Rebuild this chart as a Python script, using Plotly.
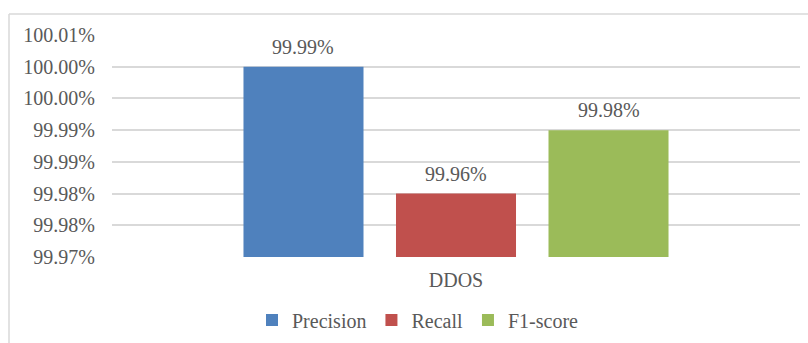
import plotly.graph_objects as go

categories = ["DDOS"]
series_names = ["Precision", "Recall", "F1-score"]
bar_values = [100.000, 99.980, 99.990]
label_texts = ["99.99%", "99.96%", "99.98%"]
colors = ["#4F81BD", "#C0504D", "#9BBB59"]
tick_vals = [99.970, 99.975, 99.980, 99.985, 99.990, 99.995, 100.000, 100.005]
tick_text = ["99.97%", "99.98%", "99.98%", "99.99%", "99.99%", "100.00%", "100.00%", "100.01%"]

FONT = "Liberation Serif"
TXT = "#595959"
W, H = 808, 343
ML, MR, MT, MB = 112, 8, 35, 86
bargap = 0.335
bargroupgap = 0.213

fig = go.Figure()
for name, v, c in zip(series_names, bar_values, colors):
    fig.add_trace(go.Bar(x=categories, y=[v - tick_vals[0]], base=[tick_vals[0]], name=name,
                         marker=dict(color=c, line=dict(width=0)), hoverinfo="skip"))

n = len(series_names)
slot = (1 - bargap) / n
annotations = []
for i, (v, t) in enumerate(zip(bar_values, label_texts)):
    annotations.append(dict(x=0 + (i - (n - 1) / 2) * slot, y=v, xref="x", yref="y", text=t,
                            showarrow=False, yanchor="middle", yshift=20,
                            font=dict(family=FONT, size=20, color=TXT)))

pw = W - ML - MR
ph = H - MT - MB
shapes = [
    dict(type="line", xref="paper", yref="paper", x0=(9 - ML) / pw, x1=(9 - ML) / pw,
         y0=-2, y1=(H - MB - 14) / ph, line=dict(color="#D9D9D9", width=1.5)),
    dict(type="line", xref="paper", yref="paper", x0=(9 - ML) / pw, x1=1.5,
         y0=(H - MB - 14) / ph, y1=(H - MB - 14) / ph, line=dict(color="#D9D9D9", width=1.5)),
]

fig.update_layout(
    width=W, height=H,
    margin=dict(l=ML, r=MR, t=MT, b=MB, autoexpand=False),
    paper_bgcolor="white", plot_bgcolor="white",
    barmode="group", bargap=bargap, bargroupgap=bargroupgap,
    font=dict(family=FONT, size=20, color=TXT),
    showlegend=True,
    legend=dict(orientation="h", x=(418 - ML) / pw, xanchor="center", y=(H - MB - 320) / ph,
                yanchor="middle", font=dict(family=FONT, size=20, color=TXT),
                itemwidth=30, traceorder="normal"),
    annotations=annotations,
    shapes=shapes,
)
fig.update_yaxes(range=[tick_vals[0], tick_vals[-1]], tickmode="array", tickvals=tick_vals,
                 ticktext=tick_text, showgrid=True, gridcolor="#D9D9D9", gridwidth=1.5,
                 zeroline=False, showline=False, ticks="", ticklabelstandoff=16,
                 tickfont=dict(family=FONT, size=20, color=TXT))
fig.update_xaxes(showgrid=False, showline=False, ticks="", ticklabelstandoff=9,
                 tickfont=dict(family=FONT, size=20, color=TXT))

fig.write_html("out.html")
